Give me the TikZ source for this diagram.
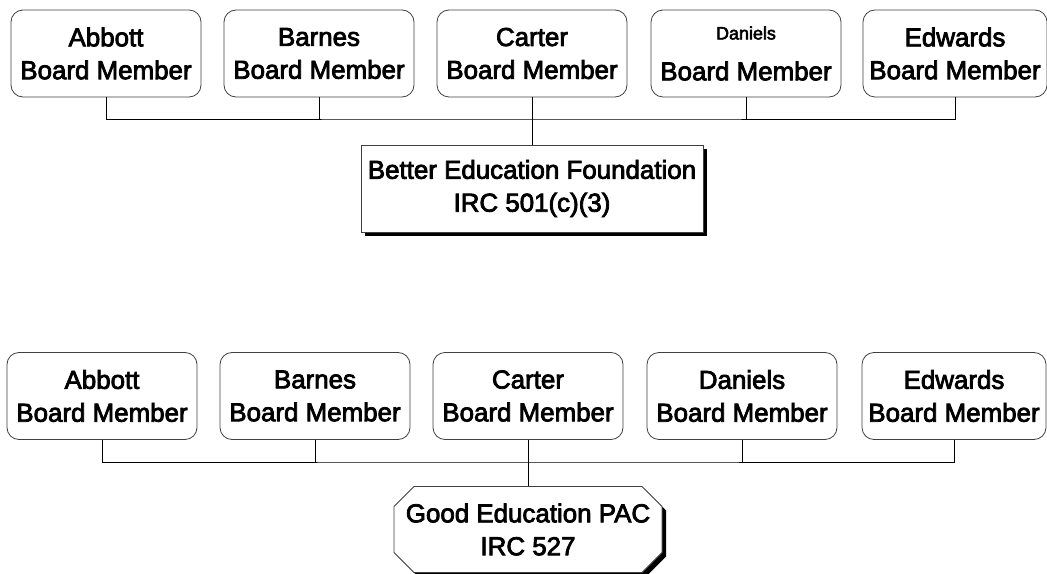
\documentclass[tikz,border=0pt]{standalone}
\usepackage{fontspec}
\setmainfont[FakeBold=3]{Liberation Sans}
\usetikzlibrary{shapes.misc,shadows}
\begin{document}
\begin{tikzpicture}[x=1bp, y=-1bp, line width=0.8bp,
  member node/.style={draw=black!75, rounded corners=12bp, minimum width=190bp, minimum height=87bp, inner sep=0pt, align=center, font=\fontsize{26}{33}\selectfont},
  org node/.style={draw=black!75, fill=white, minimum width=342bp, minimum height=87bp, inner sep=0pt, align=center, font=\fontsize{26}{33}\selectfont,
    drop shadow={shadow xshift=4bp, shadow yshift=-4bp, fill=black, opacity=1}},
  pac node/.style={draw=black!75, fill=white, chamfered rectangle, chamfered rectangle xsep=10bp, chamfered rectangle ysep=10bp, minimum width=268bp, minimum height=86bp, inner sep=0pt, align=center, font=\fontsize{26}{33}\selectfont,
    drop shadow={shadow xshift=4bp, shadow yshift=-4bp, fill=black, opacity=1}}]
\useasboundingbox (0,0) rectangle (1047,574);
% foundation board
\node[member node] (a1) at (106,53.5) {Abbott\\Board Member};
\node[member node] (a2) at (319,53.5) {Barnes\\Board Member};
\node[member node] (a3) at (532,53.5) {Carter\\Board Member};
\node[member node] (a4) at (746,53.5) {\vphantom{Abbott}\raisebox{8bp}{\fontsize{18}{33}\selectfont Daniels}\\Board Member};
\node[member node, minimum width=184bp] (a5) at (955,53.5) {Edwards\\Board Member};
\node[org node] (f) at (532,188.5) {Better Education Foundation\\IRC 501(c)(3)};
\coordinate (tbus) at (532,119);
\draw (a1.south) |- (tbus) -| (a5.south);
\draw (a2.south) -- (a2.south |- tbus);
\draw (a4.south) -- (a4.south |- tbus);
\draw (a3.south) -- (f.north);
% PAC board
\node[member node] (b1) at (102,396) {Abbott\\Board Member};
\node[member node] (b2) at (315,396) {Barnes\\Board Member};
\node[member node] (b3) at (528,396) {Carter\\Board Member};
\node[member node] (b4) at (742,396) {Daniels\\Board Member};
\node[member node, minimum width=184bp] (b5) at (954,396) {Edwards\\Board Member};
\node[pac node] (p) at (528,529.5) {Good Education PAC\\IRC 527};
\coordinate (bbus) at (528,462);
\draw (b1.south) |- (bbus) -| (b5.south);
\draw (b2.south) -- (b2.south |- bbus);
\draw (b4.south) -- (b4.south |- bbus);
\draw (b3.south) -- (p.north);
\end{tikzpicture}
\end{document}
